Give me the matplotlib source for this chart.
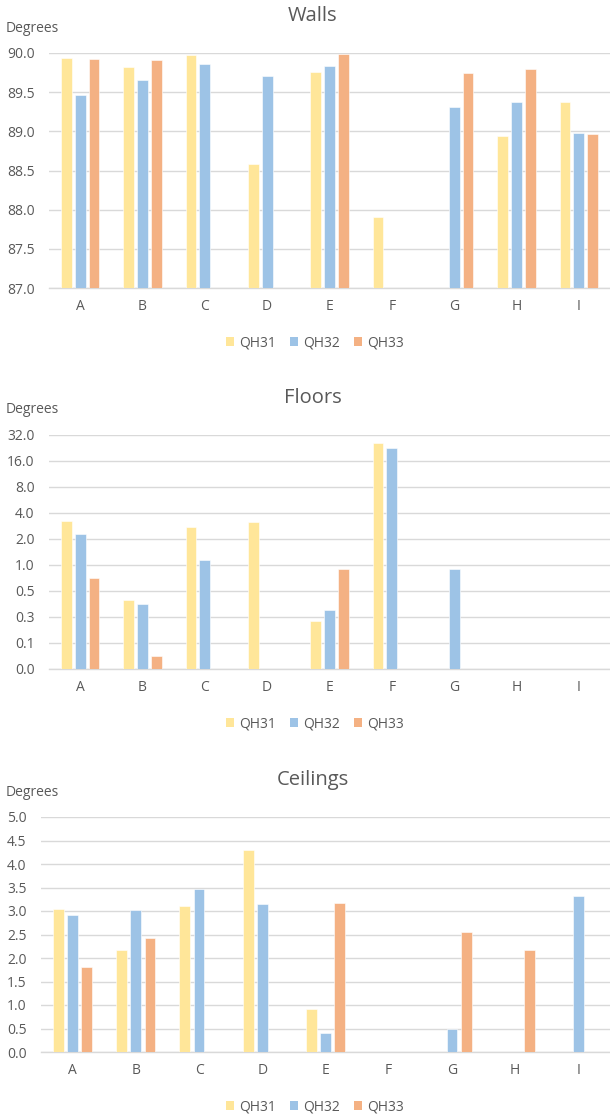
import numpy as np
import matplotlib
matplotlib.use("Agg")
import matplotlib.pyplot as plt
from matplotlib.patches import Patch

plt.rcParams["font.family"] = ["Open Sans", "DejaVu Sans"]

categories = ["A", "B", "C", "D", "E", "F", "G", "H", "I"]
series_names = ["QH31", "QH32", "QH33"]
colors = ["#FFE699", "#9DC3E6", "#F4B183"]
nan = np.nan

walls_qh31 = [89.93, 89.82, 89.97, 88.58, 89.76, 87.91, nan, 88.94, 89.37]
walls_qh32 = [89.47, 89.66, 89.86, 89.71, 89.84, nan, 89.31, 89.37, 88.98]
walls_qh33 = [89.92, 89.91, nan, nan, 89.99, nan, 89.75, 89.79, 88.96]

floors_qh31 = [3.23, 0.39, 2.75, 3.14, 0.225, 25.6, nan, nan, nan]
floors_qh32 = [2.27, 0.35, 1.15, nan, 0.30, 22.6, 0.91, nan, nan]
floors_qh33 = [0.71, 0.088, nan, nan, 0.91, nan, nan, nan, nan]

ceil_qh31 = [3.04, 2.16, 3.10, 4.30, 0.91, nan, nan, nan, nan]
ceil_qh32 = [2.92, 3.03, 3.46, 3.14, 0.40, nan, 0.50, nan, 3.31]
ceil_qh33 = [1.80, 2.43, nan, nan, 3.16, nan, 2.56, 2.16, nan]

walls_ticks = [87.0, 87.5, 88.0, 88.5, 89.0, 89.5, 90.0]
floors_ticks = [2.0 ** k for k in range(-4, 6)]
floors_ticklabels = ["0.0", "0.1", "0.3", "0.5", "1.0", "2.0", "4.0", "8.0", "16.0", "32.0"]
ceil_ticks = [0.0, 0.5, 1.0, 1.5, 2.0, 2.5, 3.0, 3.5, 4.0, 4.5, 5.0]

W, H = 610, 1117
TXT = "#595959"
GRID = "#D9D9D9"

fig = plt.figure(figsize=(W / 100, H / 100), dpi=100)


def make_axes(left, top, bottom, right=610):
    return fig.add_axes([left / W, 1 - bottom / H, (right - left) / W, (bottom - top) / H])


def draw_panel(ax, series, title, top, bottom, ymin, log=False):
    x = np.arange(len(categories))
    offsets = [-0.224, 0.0, 0.224]
    for vals, off, col, name in zip(series, offsets, colors, series_names):
        # bars rise from the axis floor up to each value
        heights = np.asarray(vals, dtype=float) - ymin
        ax.bar(x + off, heights, width=0.172, bottom=ymin, color=col, label=name,
               edgecolor="white", linewidth=0.4, zorder=3)
    if log:
        ax.set_yscale("log", base=2)
    ax.set_xlim(-0.5, len(categories) - 0.5)
    ax.set_xticks(x)
    ax.set_xticklabels(categories)
    for s in ["top", "right", "left"]:
        ax.spines[s].set_visible(False)
    ax.spines["bottom"].set_color(GRID)
    ax.spines["bottom"].set_linewidth(1.0)
    ax.yaxis.grid(True, color=GRID, linewidth=1.0, zorder=0)
    ax.set_axisbelow(True)
    ax.tick_params(axis="both", length=0, labelsize=10, colors=TXT)
    ax.tick_params(axis="y", pad=10.5)
    ax.tick_params(axis="x", pad=8)
    fig.text(313 / W, 1 - (top - 37) / H, title, ha="center", va="center",
             fontsize=14.5, color=TXT)
    fig.text(6 / W, 1 - (top - 25) / H, "Degrees", ha="left", va="center",
             fontsize=10, color=TXT)
    handles = [Patch(facecolor=c, edgecolor="none") for c in colors]
    fig.legend(handles, series_names, loc="center", ncol=3, frameon=False,
               bbox_to_anchor=(315 / W, 1 - (bottom + 55) / H),
               handlelength=0.6, handleheight=0.6, handletextpad=0.35,
               columnspacing=1.0, fontsize=10, labelcolor=TXT)


ax1 = make_axes(49, 53, 288)
draw_panel(ax1, [walls_qh31, walls_qh32, walls_qh33], "Walls", 53, 288, walls_ticks[0])
ax1.set_ylim(walls_ticks[0], walls_ticks[-1])
ax1.set_yticks(walls_ticks)
ax1.set_yticklabels([f"{t:.1f}" for t in walls_ticks])

ax2 = make_axes(49, 435, 669)
draw_panel(ax2, [floors_qh31, floors_qh32, floors_qh33], "Floors", 435, 669,
           floors_ticks[0], log=True)
ax2.set_ylim(floors_ticks[0], floors_ticks[-1])
ax2.set_yticks(floors_ticks)
ax2.set_yticklabels(floors_ticklabels)
ax2.yaxis.set_minor_locator(matplotlib.ticker.NullLocator())

ax3 = make_axes(41, 817, 1052)
draw_panel(ax3, [ceil_qh31, ceil_qh32, ceil_qh33], "Ceilings", 817, 1052, ceil_ticks[0])
ax3.set_ylim(ceil_ticks[0], ceil_ticks[-1])
ax3.set_yticks(ceil_ticks)
ax3.set_yticklabels([f"{t:.1f}" for t in ceil_ticks])

fig.savefig("out.png", dpi=100, facecolor="white")
